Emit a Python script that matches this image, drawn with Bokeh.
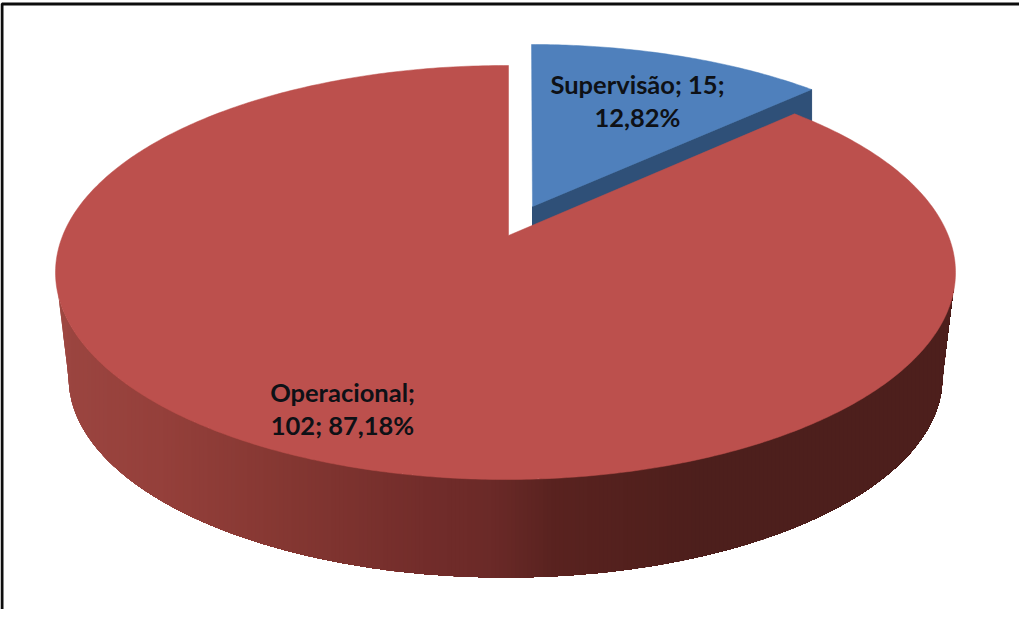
import numpy as np
from bokeh.plotting import figure
from bokeh.embed import file_html
from bokeh.resources import INLINE
from bokeh.core.properties import value

categories = ["Supervisão", "Operacional"]
counts = [15, 102]
percent_labels = ["12,82%", "87,18%"]
label_lines = [
    [f"{categories[0]}; {counts[0]};", percent_labels[0]],
    [f"{categories[1]};", f"{counts[1]}; {percent_labels[1]}"],
]

# styles / geometry (screen pixels)
BLUE, BLUE_DARK, RED = "#4f80bc", "#2f5078", "#bc504d"
GRAD_X = [63, 80, 170, 300, 430, 500, 560, 700, 963]
GRAD_C = [(160, 73, 67), (155, 69, 64), (149, 64, 59), (132, 55, 50), (115, 45, 43),
          (107, 42, 40), (90, 35, 32), (78, 31, 28), (77, 31, 28)]
RX, RY = 450, 207
RED_C = (513, 280)
RED_APEX = (516, 243)
BLUE_C = (539, 259)
BLUE_APEX = (540, 214)
BOT_C = (513, 385)
BOT_R = (437, 200)
K_BLUE, K_RED = 0.834, 0.866

W, H = 1019, 609
p = figure(width=W, height=H, x_range=(8, 8 + W), y_range=(8 + H, 8),
           output_backend="svg", toolbar_location=None, min_border=0)
p.axis.visible = False
p.grid.visible = False
p.outline_line_color = None
p.background_fill_color = "white"

total = sum(counts)
sweep = 360 * counts[0] / total
t_blue = np.radians(90 - sweep * K_BLUE)
t_red = np.radians(90 - sweep * K_RED)


def ell(c, t, rx=RX, ry=RY):
    return c[0] + rx * np.cos(t), c[1] - ry * np.sin(t)


# blue slice: side, then top
tb = np.linspace(np.pi / 2, t_blue, 80)
bx, by = ell(BLUE_C, tb)
ex, ey = ell(BLUE_C, t_blue)
p.patch([BLUE_APEX[0], ex, ex, BLUE_APEX[0]],
        [BLUE_APEX[1], ey, ey + 40, BLUE_APEX[1] + 28],
        fill_color=BLUE_DARK, line_color=BLUE_DARK)
p.patch([BLUE_APEX[0], *bx], [BLUE_APEX[1], *by], fill_color=BLUE, line_color=BLUE, line_width=0.5)


# red side: silhouette from the two ellipses, as vertical strips following the gradient
def top_y(x):
    return RED_C[1] + RY * np.sqrt(np.clip(1 - ((x - RED_C[0]) / RX) ** 2, 0, 1))


def bottom_y(x):
    xl, xr = BOT_C[0] - BOT_R[0], BOT_C[0] + BOT_R[0]
    if x < xl:
        return RED_C[1] + (x - (RED_C[0] - RX)) / (xl - (RED_C[0] - RX)) * (BOT_C[1] - RED_C[1])
    if x > xr:
        return RED_C[1] + ((RED_C[0] + RX) - x) / ((RED_C[0] + RX) - xr) * (BOT_C[1] - RED_C[1])
    return BOT_C[1] + BOT_R[1] * np.sqrt(np.clip(1 - ((x - BOT_C[0]) / BOT_R[0]) ** 2, 0, 1))


edges = np.arange(GRAD_X[0], GRAD_X[-1] + 4, 4.0)
edges[-1] = GRAD_X[-1]
for a in edges[:-1]:
    # each strip runs to the right end and the next one paints over it, so no seams show
    sub = np.linspace(a, GRAD_X[-1], max(3, int((GRAD_X[-1] - a) / 2)))
    m = a + 2
    c = [int(np.interp(m, GRAD_X, [g[i] for g in GRAD_C])) for i in range(3)]
    col = "#%02x%02x%02x" % tuple(c)
    if a > GRAD_X[-1] - 4:
        continue
    lows = [bottom_y(s) for s in sub]
    ups = [min(top_y(s), l) for s, l in zip(sub, lows)]
    p.patch([*sub, *sub[::-1]], [*ups, *lows[::-1]], fill_color=col, line_color=None)

# red top
tr = np.linspace(t_red, np.arccos((RED_APEX[0] - RED_C[0]) / RX) - 2 * np.pi, 500)
rx_, ry_ = ell(RED_C, tr)
p.patch([RED_APEX[0], *rx_], [RED_APEX[1], *ry_], fill_color=RED, line_color=RED, line_width=0.5)

# frame
p.line([9.5, 9.5, 8 + W], [8 + H, 11.5, 11.5], line_color="#0d0d0d", line_width=3)

# labels
FONT = value("Lato")
pos = [(645, [91, 124]), (350, [399, 432])]
for lines, (x, ys) in zip(label_lines, pos):
    for t, y in zip(lines, ys):
        p.text([x], [y], text=[t], text_font=FONT, text_font_size="25.5px", text_font_style="bold",
               text_color="#0e1116", text_align="center", text_baseline="middle")

open("out.html", "w").write(file_html(p, INLINE))
